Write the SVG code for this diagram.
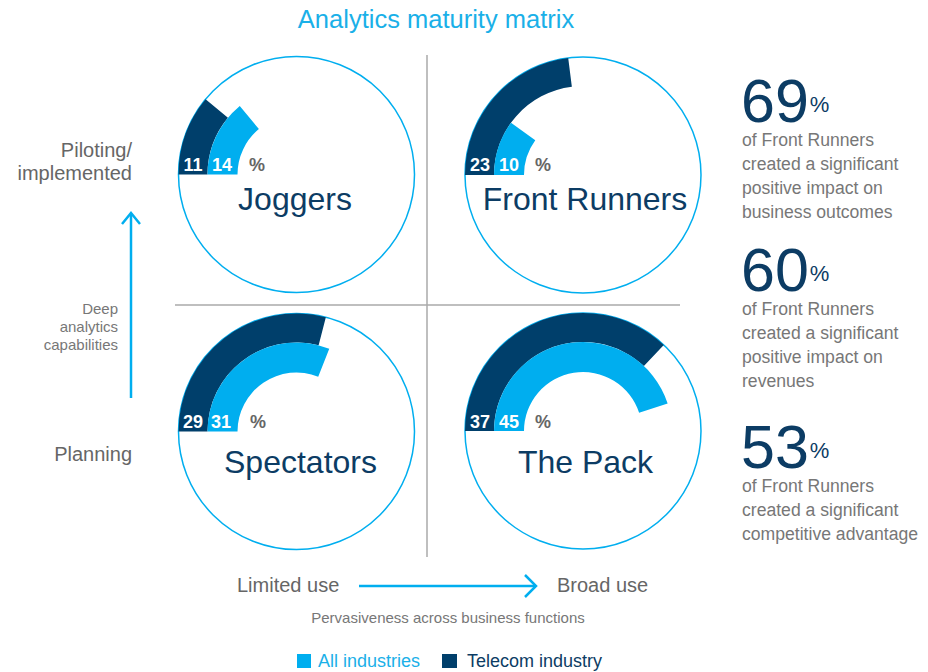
<svg xmlns="http://www.w3.org/2000/svg" width="928" height="672" viewBox="0 0 928 672">
<style>
text{font-family:"Liberation Sans",Arial,sans-serif}
.ring{fill:#fff;stroke:#00aeef;stroke-width:1.5}
.tel{fill:#003f6b}
.all{fill:#00aeef}
.num{fill:#fff;font-size:18px;font-weight:bold;text-anchor:middle}
.pct{fill:#666;font-size:18px;font-weight:bold;text-anchor:middle}
.name{fill:#0c3c64;font-size:32px;text-anchor:middle}
.axis{fill:#666;font-size:20px}
.small{fill:#777;font-size:15px}
.big{fill:#0c3c64;font-size:61px}
.bigp{fill:#0c3c64;font-size:22px}
.desc{fill:#777;font-size:17.6px}
.div{stroke:#aaa;stroke-width:1.5;fill:none}
.arrow{stroke:#00aeef;stroke-width:2.5;fill:none}
</style>
<text x="436" y="28" text-anchor="middle" font-size="25.5" fill="#1ab0e8">Analytics maturity matrix</text>
<g id="dividers">
<line class="div" x1="427" y1="55" x2="427" y2="557"/>
<line class="div" x1="175" y1="305" x2="680" y2="305"/>
</g>
<g id="joggers">
<circle class="ring" cx="296.5" cy="174.5" r="118"/>
<path class="tel" d="M178.5,174.5 A118,118 0 0 1 205.58,99.29 L227.93,117.77 A89,89 0 0 0 207.5,174.5 Z"/>
<path class="all" d="M207.5,174.5 A89,89 0 0 1 239.77,105.93 L258.89,129.04 A59,59 0 0 0 237.5,174.5 Z"/>
<text class="num" x="193" y="171">11</text>
<text class="num" x="222" y="171">14</text>
<text class="pct" x="257" y="171">%</text>
<text class="name" x="295" y="210">Joggers</text>
</g>
<g id="front-runners">
<circle class="ring" cx="583" cy="175" r="118"/>
<path class="tel" d="M465,175 A118,118 0 0 1 568.21,57.93 L571.85,86.7 A89,89 0 0 0 494,175 Z"/>
<path class="all" d="M494,175 A89,89 0 0 1 511,122.69 L535.27,140.32 A59,59 0 0 0 524,175 Z"/>
<text class="num" x="480" y="171">23</text>
<text class="num" x="509" y="171">10</text>
<text class="pct" x="543" y="171">%</text>
<text class="name" x="585" y="210">Front Runners</text>
</g>
<g id="spectators">
<circle class="ring" cx="296.5" cy="431.5" r="118"/>
<path class="tel" d="M178.5,431.5 A118,118 0 0 1 325.85,317.21 L318.63,345.29 A89,89 0 0 0 207.5,431.5 Z"/>
<path class="all" d="M207.5,431.5 A89,89 0 0 1 329.26,348.75 L318.22,376.64 A59,59 0 0 0 237.5,431.5 Z"/>
<text class="num" x="193" y="428">29</text>
<text class="num" x="221" y="428">31</text>
<text class="pct" x="258" y="428">%</text>
<text class="name" x="300.5" y="473">Spectators</text>
</g>
<g id="the-pack">
<circle class="ring" cx="583" cy="431" r="118"/>
<path class="tel" d="M465,431 A118,118 0 0 1 663.77,344.98 L643.92,366.12 A89,89 0 0 0 494,431 Z"/>
<path class="all" d="M494,431 A89,89 0 0 1 667.65,403.5 L639.11,412.77 A59,59 0 0 0 524,431 Z"/>
<text class="num" x="480" y="428">37</text>
<text class="num" x="509" y="428">45</text>
<text class="pct" x="543" y="428">%</text>
<text class="name" x="585.5" y="473">The Pack</text>
</g>
<g id="connectors">
<line class="arrow" x1="131" y1="398" x2="131" y2="214"/>
<polyline class="arrow" points="122,224 131,213 140,224"/>
<line class="arrow" x1="359" y1="586" x2="536" y2="586"/>
<polyline class="arrow" points="525,575 536,586 525,597"/>
</g>
<g id="y-axis">
<text class="axis" x="132" y="157" text-anchor="end">Piloting/</text>
<text class="axis" x="132" y="180" text-anchor="end">implemented</text>
<text class="small" x="118" y="314" text-anchor="end">Deep</text>
<text class="small" x="118" y="332" text-anchor="end">analytics</text>
<text class="small" x="118" y="350" text-anchor="end">capabilities</text>
<text class="axis" x="132" y="461" text-anchor="end">Planning</text>
</g>
<g id="x-axis">
<text class="axis" x="237" y="592">Limited use</text>
<text class="axis" x="557" y="592">Broad use</text>
<text class="small" x="448" y="623" text-anchor="middle">Pervasiveness across business functions</text>
</g>
<g id="legend">
<rect x="297" y="654" width="14" height="14" fill="#00aeef"/>
<text x="318" y="667" font-size="18" fill="#1ab0e8">All industries</text>
<rect x="442" y="654" width="15" height="14" fill="#003f6b"/>
<text x="467" y="667" font-size="18" fill="#0c3c64">Telecom industry</text>
</g>
<g id="stats">
<text x="741" y="122"><tspan class="big">69</tspan><tspan class="bigp" dx="1" dy="-10">%</tspan></text>
<text class="desc" x="742" y="146">of Front Runners</text>
<text class="desc" x="742" y="170">created a significant</text>
<text class="desc" x="742" y="194">positive impact on</text>
<text class="desc" x="742" y="218">business outcomes</text>
<text x="741" y="291"><tspan class="big">60</tspan><tspan class="bigp" dx="1" dy="-10">%</tspan></text>
<text class="desc" x="742" y="315">of Front Runners</text>
<text class="desc" x="742" y="339">created a significant</text>
<text class="desc" x="742" y="363">positive impact on</text>
<text class="desc" x="742" y="387">revenues</text>
<text x="741" y="468"><tspan class="big">53</tspan><tspan class="bigp" dx="1" dy="-10">%</tspan></text>
<text class="desc" x="742" y="492">of Front Runners</text>
<text class="desc" x="742" y="516">created a significant</text>
<text class="desc" x="742" y="540">competitive advantage</text>
</g>
</svg>
